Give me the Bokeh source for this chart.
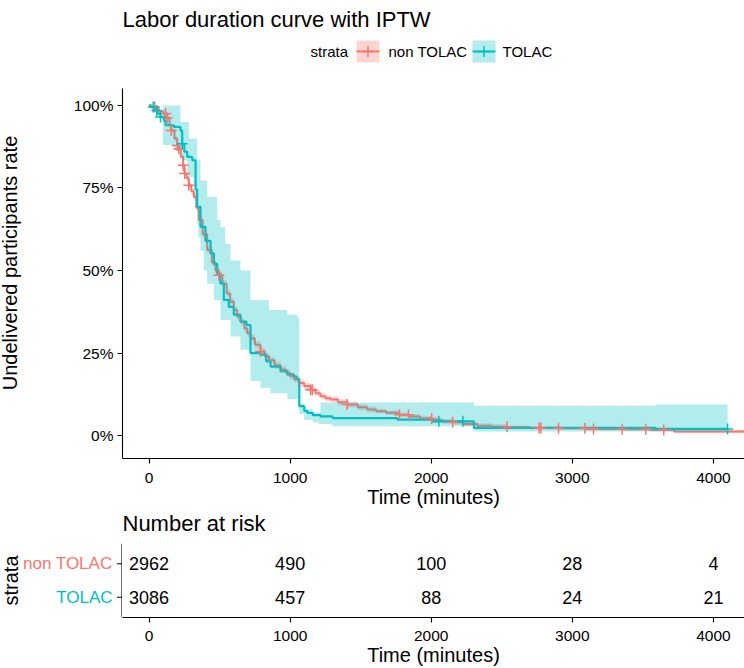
import numpy as np
from bokeh.plotting import figure
from bokeh.layouts import column, row
from bokeh.models import Range1d, FixedTicker, NumeralTickFormatter, ColumnDataSource
from bokeh.core.properties import value
from bokeh.embed import file_html
from bokeh.resources import INLINE

RED = "#F8766D"
TEAL = "#00BFC4"
FONT = "Liberation Sans"

groups = ["non TOLAC", "TOLAC"]

# --- non TOLAC: weighted Kaplan-Meier estimate (step times, survival, CI half-width)
red_t = [0, 20, 45, 70, 100, 129, 145, 157, 180, 200, 211, 225, 242, 252, 265,
         282, 300, 318, 335, 353, 380, 412, 445, 470, 495, 520, 550, 575, 601, 625,
         650, 675, 696, 720, 750, 790, 820, 850, 890, 932, 970, 1000, 1030, 1062, 1100,
         1145, 1180, 1215, 1250, 1286, 1340, 1405, 1480, 1546, 1610, 1680, 1771, 1841, 1920, 2007,
         2080, 2149, 2230, 2326, 2430, 2539, 2700, 2900, 3100, 3350, 3550, 3720, 4300]
red_s = [1.0, 0.995, 0.99, 0.982, 0.975, 0.962, 0.94, 0.924, 0.9, 0.879, 0.869, 0.845, 0.819, 0.794, 0.78,
         0.758, 0.74, 0.723, 0.69, 0.653, 0.61, 0.562, 0.525, 0.50, 0.486, 0.46, 0.43, 0.405, 0.381, 0.36,
         0.345, 0.325, 0.31, 0.295, 0.275, 0.255, 0.24, 0.228, 0.213, 0.20, 0.19, 0.18, 0.17, 0.159, 0.15,
         0.139, 0.128, 0.119, 0.113, 0.109, 0.101, 0.094, 0.086, 0.079, 0.074, 0.069, 0.063, 0.058, 0.052, 0.046,
         0.043, 0.040, 0.035, 0.030, 0.027, 0.025, 0.023, 0.022, 0.020, 0.019, 0.017, 0.012, 0.012]
red_hw = [0.003] * 4 + [0.007] * 12 + [0.011] * 28 + [0.009] * 10 + [0.007] * 11 + [0.005] * 8
red_censor_t = [40, 117, 129, 157, 200, 211, 242, 252, 282, 495, 790, 1145, 1157, 1405,
                1775, 1838, 2003, 2152, 2537, 2764, 2777, 2902, 3089, 3150, 3353, 3520, 3648]

# --- TOLAC: weighted Kaplan-Meier estimate
tol_t = [0, 12, 35, 58, 81, 105, 117, 176, 223, 235, 250, 271, 306, 330, 341,
         365, 400, 436, 460, 483, 505, 530, 565, 601, 648, 690, 719, 790, 830, 861,
         932, 980, 1026, 1045, 1065, 1100, 1121, 1160, 1215, 1300, 1760, 2007, 2302, 3590, 4100]
tol_s = [1.0, 0.995, 0.985, 0.975, 0.965, 0.955, 0.94, 0.935, 0.924, 0.884, 0.86, 0.844, 0.834, 0.745, 0.693,
         0.632, 0.59, 0.552, 0.52, 0.49, 0.461, 0.411, 0.39, 0.366, 0.345, 0.335, 0.25, 0.245, 0.225, 0.209,
         0.195, 0.185, 0.179, 0.172, 0.089, 0.075, 0.069, 0.062, 0.058, 0.053, 0.048, 0.043, 0.023, 0.020, 0.020]
tol_censor_t = [30, 55, 81, 235, 2054, 2224, 4100]

# TOLAC confidence band
tol_ci_t = [98, 176, 223, 235, 271, 282, 318, 330, 341, 350, 365, 388, 412, 459, 483, 507, 540,
            577, 648, 719, 790, 850, 860, 980, 1052, 1065, 1100, 1160, 1200, 1215, 1300, 2302, 3590, 4100]
tol_ci_hi = [1.0, 1.0, 0.95, 0.95, 0.95, 0.90, 0.90, 0.90, 0.834, 0.834, 0.773, 0.773, 0.723, 0.723, 0.653,
             0.632, 0.58, 0.53, 0.50, 0.41, 0.41, 0.38, 0.38, 0.366, 0.357, 0.095, 0.08, 0.07, 0.07, 0.10,
             0.10, 0.09, 0.094, 0.094]
tol_ci_lo = [0.88, 0.864, 0.864, 0.834, 0.783, 0.783, 0.753, 0.693, 0.64, 0.60, 0.56, 0.50, 0.46, 0.41, 0.41,
             0.35, 0.35, 0.30, 0.26, 0.165, 0.145, 0.145, 0.128, 0.11, 0.11, 0.065, 0.048, 0.04, 0.035, 0.035,
             0.028, 0.012, 0.012, 0.012]

# --- number at risk table
risk_times = [0, 1000, 2000, 3000, 4000]
risk_non_tolac = [2962, 490, 100, 28, 4]
risk_tolac = [3086, 457, 88, 24, 21]

x_ticks = [0, 1000, 2000, 3000, 4000]
y_ticks = [0, 0.25, 0.5, 0.75, 1.0]

X_RANGE = (-188, 4220)
Y_RANGE = (-0.0695, 1.0514)
PANEL_LEFT = 122   # left edge of the plotting panels, in page pixels
YLAB_W = 40        # strip holding the vertical axis title
MAIN_H, MAIN_TOP, MAIN_BOTTOM = 430, 8, 51
STRIP_H = 33
RISK_H, RISK_BOTTOM = 125, 49


def step_value(ts, ss, t):
    i = np.searchsorted(np.asarray(ts), t, side="right") - 1
    return ss[i]


def style_axis(ax, tick_size="15.5px"):
    ax.axis_line_color = "black"
    ax.axis_line_width = 1.1
    ax.major_tick_line_color = "black"
    ax.major_tick_line_width = 1.1
    ax.major_tick_out = 5
    ax.major_tick_in = 0
    ax.minor_tick_line_color = None
    ax.major_label_text_font = FONT
    ax.major_label_text_font_size = tick_size
    ax.major_label_text_color = "black"
    ax.axis_label_text_font = FONT
    ax.axis_label_text_font_size = "20px"
    ax.axis_label_text_font_style = "normal"
    ax.axis_label_text_color = "black"


def bare(fig):
    fig.grid.visible = False
    fig.outline_line_color = None
    fig.background_fill_color = "white"
    fig.border_fill_color = "white"


def canvas(width, height, xr, yr, **kw):
    fig = figure(width=width, height=height, x_range=Range1d(*xr), y_range=Range1d(*yr),
                 toolbar_location=None, output_backend="svg",
                 x_axis_location=None, y_axis_location=None, **kw)
    bare(fig)
    return fig


# ---------------- header: title and legend (page-pixel coordinates) ----------------
hdr = canvas(744, 80, (PANEL_LEFT, 744), (80, 0),
             min_border_left=PANEL_LEFT, min_border_right=0, min_border_top=0, min_border_bottom=0)
hdr.text(x=[PANEL_LEFT], y=[19], text=["Labor duration curve with IPTW"], text_font=value(FONT),
         text_font_size="22px", text_baseline="alphabetic", text_align="left", text_color="black")
hdr.text(x=[310], y=[51], text=["strata"], text_font=value(FONT), text_font_size="15px",
         text_baseline="middle", text_align="left", text_color="black")
key_left = [356, 472]
key_w = 23
hdr.quad(left=key_left, right=[k + key_w for k in key_left], top=[40, 40], bottom=[62, 62],
         fill_color=[RED, TEAL], fill_alpha=0.3, line_color=None)
hdr.segment(x0=key_left, x1=[k + key_w for k in key_left], y0=[51, 51], y1=[51, 51],
            line_color=[RED, TEAL], line_width=2)
hdr.scatter(x=[k + key_w / 2 for k in key_left], y=[51, 51], marker="cross", size=11,
            line_color=[RED, TEAL], line_width=1.5)
hdr.text(x=[388, 502], y=[51, 51], text=groups, text_font=value(FONT), text_font_size="15px",
         text_baseline="middle", text_align="left", text_color="black")

# ---------------- vertical axis title ----------------
ylab = canvas(YLAB_W, MAIN_H, (0, YLAB_W), Y_RANGE, min_border_left=0, min_border_right=0,
              min_border_top=MAIN_TOP, min_border_bottom=MAIN_BOTTOM)
ylab.text(x=[9], y=[0.5227], text=["Undelivered participants rate"], angle=np.pi / 2,
          text_font=value(FONT), text_font_size="20px", text_align="center",
          text_baseline="middle", text_color="black")

# ---------------- survival curves ----------------
p = figure(width=744 - YLAB_W, height=MAIN_H, x_range=Range1d(*X_RANGE), y_range=Range1d(*Y_RANGE),
           toolbar_location=None, output_backend="svg",
           min_border_left=PANEL_LEFT - YLAB_W, min_border_right=0,
           min_border_top=MAIN_TOP, min_border_bottom=MAIN_BOTTOM)
bare(p)

red_src = ColumnDataSource(dict(t=red_t, s=red_s,
                                lo=[s - h for s, h in zip(red_s, red_hw)],
                                hi=[s + h for s, h in zip(red_s, red_hw)]))
tol_src = ColumnDataSource(dict(t=tol_t, s=tol_s))
tol_ci_src = ColumnDataSource(dict(t=tol_ci_t, lo=tol_ci_lo, hi=tol_ci_hi))

# step lines first, ribbons over them, censoring marks on top
p.step("t", "s", source=red_src, mode="after", line_color=RED, line_width=2)
p.step("t", "s", source=tol_src, mode="after", line_color=TEAL, line_width=2.2)
p.varea_step(x="t", y1="lo", y2="hi", source=red_src, step_mode="after",
             fill_color=RED, fill_alpha=0.3)
p.varea_step(x="t", y1="lo", y2="hi", source=tol_ci_src, step_mode="after",
             fill_color=TEAL, fill_alpha=0.3)

red_cens = ColumnDataSource(dict(t=red_censor_t,
                                 s=[step_value(red_t, red_s, t) for t in red_censor_t]))
tol_cens = ColumnDataSource(dict(t=tol_censor_t,
                                 s=[step_value(tol_t, tol_s, t) for t in tol_censor_t]))
p.scatter("t", "s", source=red_cens, marker="cross", size=11, line_color=RED, line_width=1.5)
p.scatter("t", "s", source=tol_cens, marker="cross", size=11, line_color=TEAL, line_width=1.5)

p.xaxis.ticker = FixedTicker(ticks=x_ticks)
p.yaxis.ticker = FixedTicker(ticks=y_ticks)
p.yaxis.formatter = NumeralTickFormatter(format="0%")
p.xaxis.axis_label = "Time (minutes)"
style_axis(p.xaxis[0])
style_axis(p.yaxis[0])
p.xaxis.major_label_standoff = 9
p.xaxis.axis_label_standoff = 0
p.yaxis.major_label_standoff = 4

# ---------------- "Number at risk" heading ----------------
strip = canvas(744, STRIP_H, (PANEL_LEFT, 744), (STRIP_H, 0),
               min_border_left=PANEL_LEFT, min_border_right=0, min_border_top=0, min_border_bottom=0)
strip.text(x=[PANEL_LEFT], y=[13], text=["Number at risk"], text_font=value(FONT),
           text_font_size="22px", text_align="left", text_baseline="middle", text_color="black")

# ---------------- number at risk ----------------
left = canvas(PANEL_LEFT, RISK_H, (0, PANEL_LEFT), (0.4, 2.6),
              min_border_left=0, min_border_right=0, min_border_top=0, min_border_bottom=RISK_BOTTOM)
row_pos = [2, 1]
left.text(x=[112, 112], y=row_pos, text=groups, text_color=[RED, TEAL], text_font=value(FONT),
          text_font_size="17px", text_align="right", text_baseline="middle")
left.segment(x0=[116.5, 116.5], x1=[122, 122], y0=row_pos, y1=row_pos, line_color="black",
             line_width=1.1)
left.segment(x0=[121.5], x1=[121.5], y0=[0.4], y1=[2.6], line_color="black", line_width=1.1)
left.text(x=[10], y=[1.5], text=["strata"], angle=np.pi / 2, text_font=value(FONT),
          text_font_size="20px", text_align="center", text_baseline="middle", text_color="black")

r = figure(width=744 - PANEL_LEFT, height=RISK_H, x_range=Range1d(*X_RANGE), y_range=Range1d(0.4, 2.6),
           toolbar_location=None, output_backend="svg",
           min_border_left=0, min_border_right=0,
           min_border_top=0, min_border_bottom=RISK_BOTTOM, y_axis_location=None)
bare(r)

risk_src = ColumnDataSource(dict(
    t=risk_times + risk_times,
    y=[row_pos[0]] * len(risk_times) + [row_pos[1]] * len(risk_times),
    n=[str(v) for v in risk_non_tolac + risk_tolac]))
r.text(x="t", y="y", text="n", source=risk_src, text_font=value(FONT), text_font_size="18px",
       text_align="center", text_baseline="middle", text_color="black")
r.xaxis.ticker = FixedTicker(ticks=x_ticks)
r.xaxis.axis_label = "Time (minutes)"
style_axis(r.xaxis[0])
r.xaxis.major_label_standoff = 8
r.xaxis.axis_label_standoff = 0

layout = column(hdr, row(ylab, p), strip, row(left, r))
open("out.html", "w").write(file_html(layout, INLINE))
